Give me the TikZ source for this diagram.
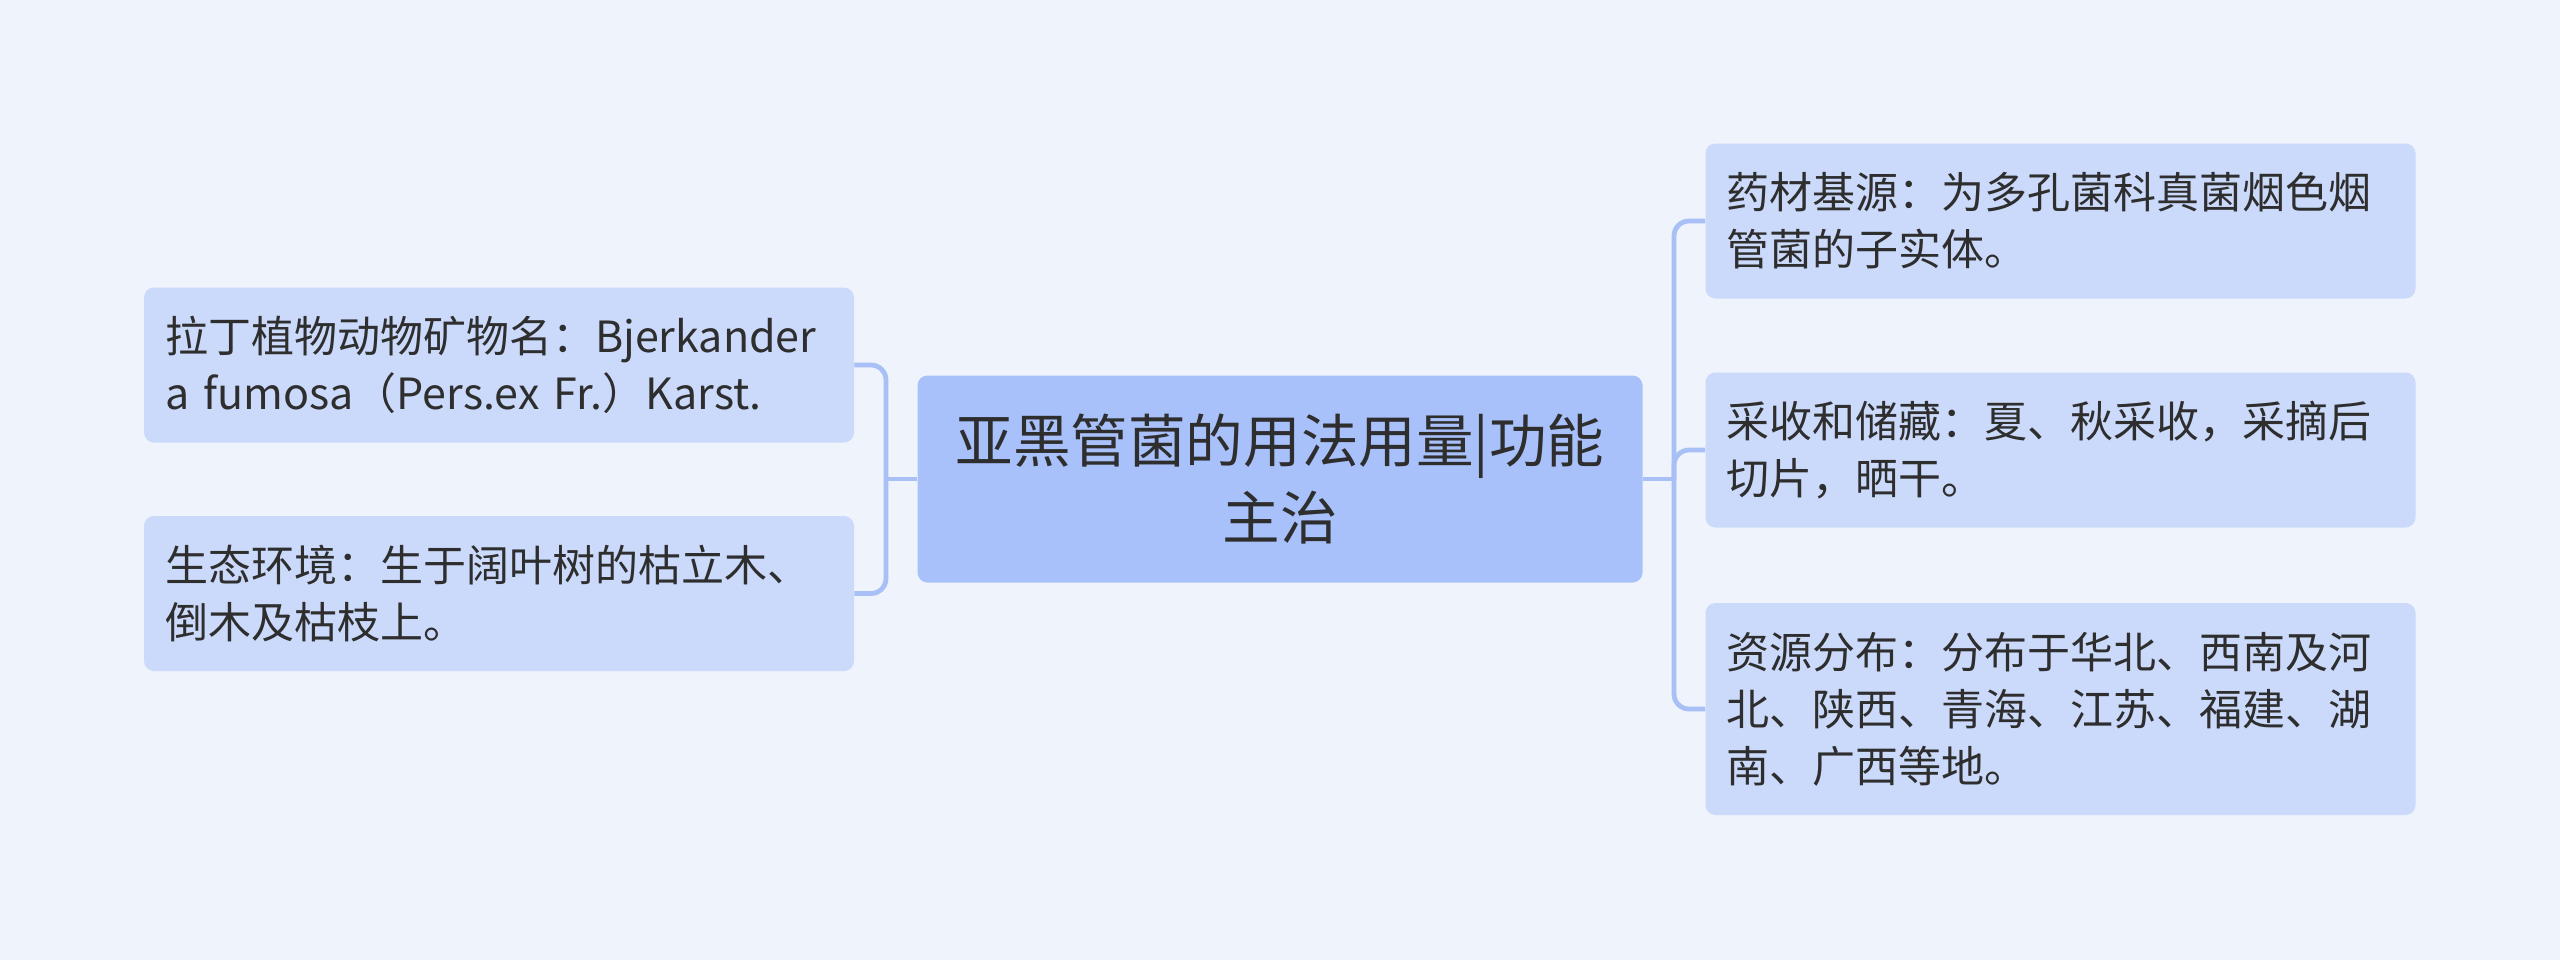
\documentclass[tikz,border=0pt]{standalone}
\usepackage{fontspec}
\setmainfont{Noto Sans CJK SC}
\definecolor{bgc}{HTML}{EEF3FC}
\definecolor{rootc}{HTML}{A9C1FB}
\definecolor{childc}{HTML}{CBDAFB}
\definecolor{linec}{HTML}{A8C0F5}
\definecolor{txtc}{HTML}{2E2E2E}
\begin{document}
\begin{tikzpicture}[x=0.5pt,y=-0.5pt,
  rootbox/.style={fill=rootc, draw=none, rounded corners=5pt, minimum width=362.5pt, minimum height=103.5pt, text width=345pt, align=center, inner sep=0pt, text=txtc, font=\fontsize{28.8pt}{38.4pt}\selectfont},
  childbox/.style={fill=childc, draw=none, rounded corners=5pt, minimum width=355pt, text width=334pt, align=left, inner sep=0pt, text=txtc, font=\fontsize{21.5pt}{28.5pt}\selectfont},
  conn/.style={draw=linec, line width=2.4pt, rounded corners=7.5pt}]
\fill[bgc] (0,0) rectangle (2560,960);
\useasboundingbox (0,0) rectangle (2560,960);
\node[rootbox] (c) at (1280,479) {亚黑管菌的用法用量|功能\\主治};
\node[childbox, minimum height=77.5pt] (l1) at (499,365) {拉丁植物动物矿物名：Bjerkander\\a fumosa（Pers.ex Fr.）Karst.};
\node[childbox, minimum height=77.5pt] (l2) at (499,593.5) {生态环境：生于阔叶树的枯立木、\\倒木及枯枝上。};
\node[childbox, minimum height=77.5pt] (r1) at (2060.5,221) {药材基源：为多孔菌科真菌烟色烟\\管菌的子实体。};
\node[childbox, minimum height=77.5pt] (r2) at (2060.5,450) {采收和储藏：夏、秋采收，采摘后\\切片，晒干。};
\node[childbox, minimum height=106pt] (r3) at (2060.5,709) {资源分布：分布于华北、西南及河\\北、陕西、青海、江苏、福建、湖\\南、广西等地。};
\coordinate (lj) at (886,479);
\coordinate (rj) at (1674,479);
\draw[conn] (c.west) -- (lj);
\draw[conn] (lj) |- (l1.east);
\draw[conn] (lj) |- (l2.east);
\draw[conn] (c.east) -- (rj);
\draw[conn] (rj) |- (r1.west);
\draw[conn] (rj) |- (r2.west);
\draw[conn] (rj) |- (r3.west);
\end{tikzpicture}
\end{document}
